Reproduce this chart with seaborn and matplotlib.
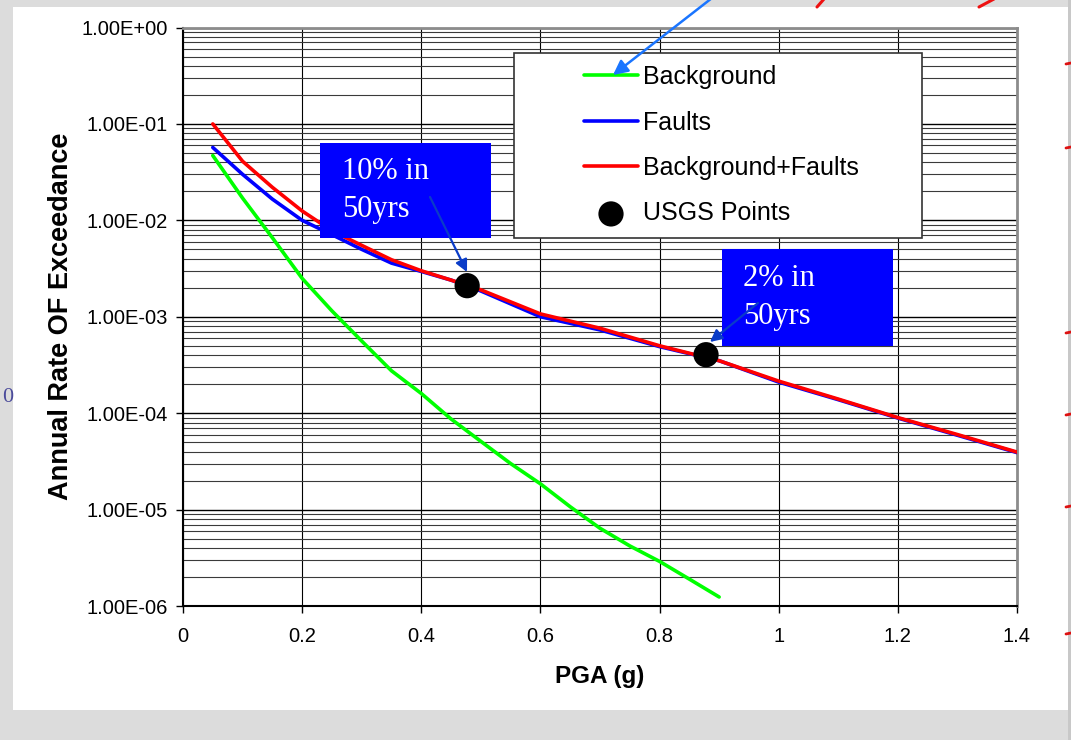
import numpy as np
import pandas as pd
import seaborn as sns
import matplotlib.pyplot as plt
import matplotlib.ticker as ticker
from matplotlib.patches import Rectangle
from matplotlib.lines import Line2D

# PGA (g) と年超過確率
pga_bg = [0.05, 0.1, 0.15, 0.2, 0.25, 0.3, 0.35, 0.4, 0.45, 0.5,
          0.55, 0.6, 0.65, 0.7, 0.75, 0.8, 0.85, 0.9]
rate_bg = [4.7e-2, 1.7e-2, 6.6e-3, 2.5e-3, 1.15e-3, 5.6e-4, 2.75e-4, 1.6e-4, 8.7e-5, 5.1e-5,
           3.0e-5, 1.85e-5, 1.07e-5, 6.4e-6, 4.2e-6, 2.9e-6, 1.9e-6, 1.24e-6]

pga_ft = [0.05, 0.1, 0.15, 0.2, 0.25, 0.3, 0.35, 0.4, 0.45, 0.5,
          0.6, 0.7, 0.8, 0.9, 1.0, 1.1, 1.2, 1.3, 1.4]
rate_faults = [5.7e-2, 3.0e-2, 1.66e-2, 1.0e-2, 7.1e-3, 5.0e-3, 3.6e-3, 2.95e-3, 2.4e-3, 1.85e-3,
               1.0e-3, 7.3e-4, 4.9e-4, 3.5e-4, 2.1e-4, 1.38e-4, 8.9e-5, 5.9e-5, 3.9e-5]
rate_total = [1.0e-1, 4.1e-2, 2.2e-2, 1.25e-2, 7.8e-3, 5.5e-3, 3.9e-3, 3.0e-3, 2.4e-3, 1.9e-3,
              1.07e-3, 7.6e-4, 5.0e-4, 3.5e-4, 2.15e-4, 1.4e-4, 9.0e-5, 6.0e-5, 3.95e-5]

usgs_pga = [0.477, 0.878]
usgs_rate = [2.1e-3, 4.04e-4]
usgs_text = ["10% in\n50yrs", "2% in\n50yrs"]

xtick_vals = [0, 0.2, 0.4, 0.6, 0.8, 1.0, 1.2, 1.4]
ytick_vals = [1e-6, 1e-5, 1e-4, 1e-3, 1e-2, 1e-1, 1e0]

W, H = 1071, 740


def fx(px):
    return px / W


def fy(py):
    return 1 - py / H


sns.set_style("white")
plt.rcParams['font.family'] = ['Liberation Sans', 'DejaVu Sans']
plt.rcParams['text.color'] = 'black'
plt.rcParams['axes.labelcolor'] = 'black'
plt.rcParams['xtick.color'] = 'black'
plt.rcParams['ytick.color'] = 'black'

fig = plt.figure(figsize=(W / 100, H / 100), dpi=100)
fig.patch.set_facecolor('#dcdcdc')
# 白い背景の枠
fig.patches.append(Rectangle((fx(13), fy(710)), fx(1068) - fx(13), fy(7) - fy(710),
                             transform=fig.transFigure, facecolor='white', edgecolor='none', zorder=-1))

ax = fig.add_axes([fx(183), fy(606), (1017 - 183) / W, (606 - 27.5) / H])
ax.set_facecolor('white')

sns.lineplot(x=pga_bg, y=rate_bg, color='#00ff00', lw=2.6, label='Background', ax=ax, zorder=3)
sns.lineplot(x=pga_ft, y=rate_faults, color='#0000ff', lw=2.6, label='Faults', ax=ax, zorder=3)
sns.lineplot(x=pga_ft, y=rate_total, color='#ff0000', lw=2.6, label='Background+Faults', ax=ax, zorder=3)
sns.scatterplot(x=usgs_pga, y=usgs_rate, color='black', s=330, edgecolor='none',
                label='USGS Points', ax=ax, zorder=4)

ax.set_yscale('log')
ax.set_xlim(0, 1.4)
ax.set_ylim(1e-6, 1)
ax.set_xticks(xtick_vals)
ax.xaxis.set_major_formatter(ticker.FuncFormatter(lambda v, p: '%g' % v))
ax.set_yticks(ytick_vals)
ax.yaxis.set_major_formatter(ticker.FuncFormatter(lambda v, p: '%.2E' % v))
ax.yaxis.set_minor_locator(ticker.LogLocator(base=10, subs=np.arange(2, 10), numticks=20))
ax.yaxis.set_minor_formatter(ticker.NullFormatter())

ax.grid(True, which='major', axis='y', color='black', lw=1.0, zorder=1)
ax.grid(True, which='minor', axis='y', color='#3a3a3a', lw=0.8, zorder=1)
ax.grid(True, which='major', axis='x', color='black', lw=0.8, zorder=1)
ax.set_axisbelow(True)

ax.tick_params(axis='both', which='major', direction='out', length=5, width=1,
               color='black', labelcolor='black', labelsize=14.5, left=True, bottom=True)
ax.tick_params(axis='y', which='major', pad=6)
ax.tick_params(axis='x', which='major', pad=10)
ax.tick_params(axis='y', which='minor', left=False)

for s in ['left', 'bottom']:
    ax.spines[s].set_color('black')
    ax.spines[s].set_linewidth(1.5)
for s in ['top', 'right']:
    ax.spines[s].set_color('#8c8c8c')
    ax.spines[s].set_linewidth(2)

ax.set_xlabel('PGA (g)', fontsize=17.5, fontweight='bold', labelpad=14, color='black')
ax.set_ylabel('Annual Rate OF Exceedance', fontsize=19.5, fontweight='bold', labelpad=5, color='black')

# 凡例の枠
ax.add_patch(Rectangle((fx(514), fy(238)), fx(922) - fx(514), fy(53) - fy(238),
                       transform=fig.transFigure, facecolor='white', edgecolor='#333333',
                       lw=1.2, zorder=5, clip_on=False))
handles, labels = ax.get_legend_handles_labels()
leg = ax.legend(handles, labels, loc='upper left', bbox_to_anchor=(fx(584), fy(65)),
                bbox_transform=fig.transFigure, frameon=False, fontsize=18,
                handlelength=2.16, handletextpad=0.2, labelspacing=0.86,
                borderpad=0, borderaxespad=0, scatterpoints=1)
leg.set_zorder(6)
for t in leg.get_texts():
    t.set_color('black')

# 青いボックスと矢印
boxes = [(320, 143, 491, 238), (722, 249, 893, 346)]
text_x = [342, 743]
arrow_start = [(430, 197), (758, 303)]
arrow_end = [(467, 272), (710, 342)]
for i in range(2):
    x0, y0, x1, y1 = boxes[i]
    ax.add_patch(Rectangle((fx(x0), fy(y1)), fx(x1) - fx(x0), fy(y0) - fy(y1),
                           transform=fig.transFigure, facecolor='#0000ff', edgecolor='none',
                           zorder=7, clip_on=False))
    ax.text(fx(text_x[i]), fy((y0 + y1) / 2), usgs_text[i], transform=fig.transFigure,
            color='white', fontsize=22, family='Liberation Serif', ha='left', va='center',
            linespacing=1.38, zorder=8)
    ax.annotate('', xy=(fx(arrow_end[i][0]), fy(arrow_end[i][1])), xycoords='figure fraction',
                xytext=(fx(arrow_start[i][0]), fy(arrow_start[i][1])), textcoords='figure fraction',
                arrowprops=dict(arrowstyle='-|>', color='#0a3cc8', lw=1.6, mutation_scale=18,
                                shrinkA=0, shrinkB=0),
                annotation_clip=False, zorder=9)

# 上からの矢印など（スライドの残り）
ax.annotate('', xy=(fx(613), fy(75)), xycoords='figure fraction',
            xytext=(fx(712), fy(-2)), textcoords='figure fraction',
            arrowprops=dict(arrowstyle='-|>', color='#1a75ff', lw=1.8, mutation_scale=22,
                            shrinkA=0, shrinkB=0),
            annotation_clip=False, zorder=10)
for (xa, ya, xb, yb) in [(817, 7, 824, -1), (979, 7, 994, -1)]:
    fig.add_artist(Line2D([fx(xa), fx(xb)], [fy(ya), fy(yb)], color='#ee1111', lw=2.2,
                          transform=fig.transFigure))
fig.patches.append(Rectangle((fx(1068), 0), fx(1071) - fx(1068), 1, transform=fig.transFigure,
                             facecolor='#c8c8c8', edgecolor='none', zorder=-1))
for yy in [64, 148, 333, 415, 507, 634]:
    fig.add_artist(Line2D([fx(1066), fx(1071)], [fy(yy), fy(yy - 1)], color='#dd1111', lw=2,
                          transform=fig.transFigure))
fig.text(fx(13), fy(398), '0', color='#4b4b9b', fontsize=16, family='Liberation Serif',
         ha='right', va='center')

plt.savefig('out.png', dpi=100, facecolor=fig.get_facecolor())
